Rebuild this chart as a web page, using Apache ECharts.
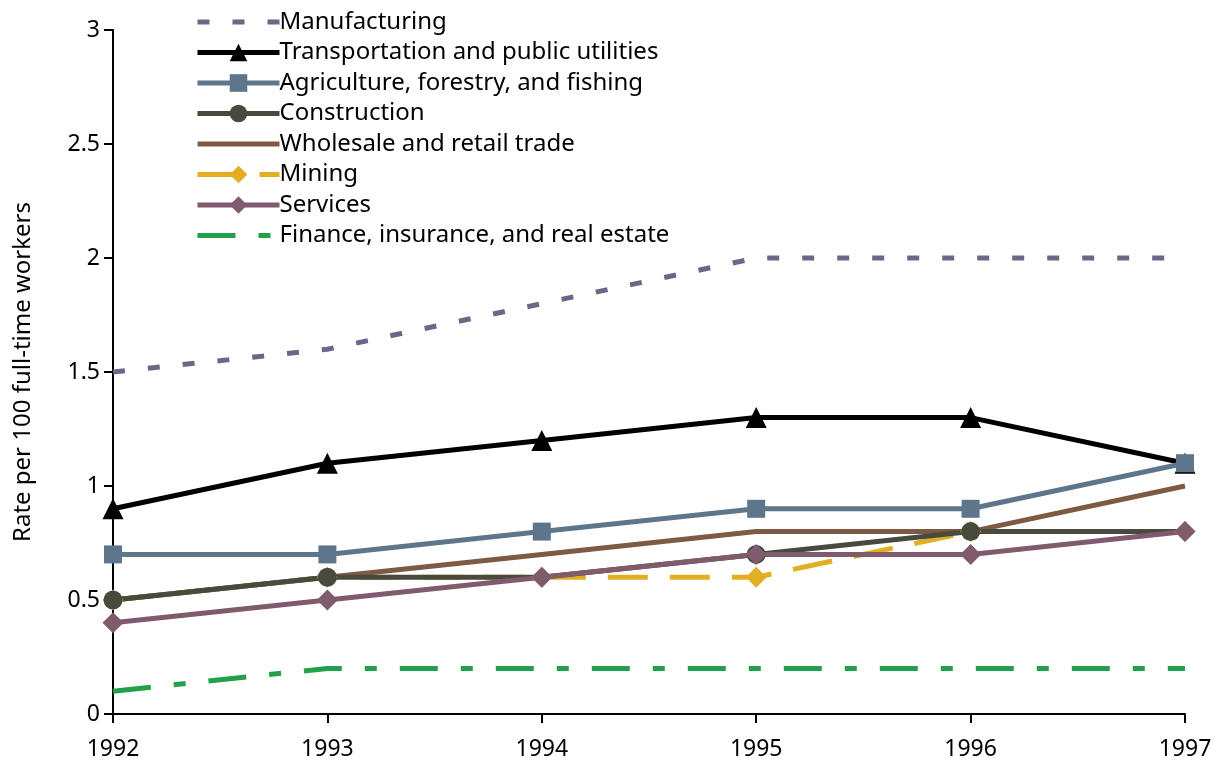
<!DOCTYPE html>
<html>
<head>
<meta charset="utf-8">
<script src="https://cdn.jsdelivr.net/npm/echarts@6/dist/echarts.min.js"></script>
<style>
  html, body { margin: 0; padding: 0; background: #fff; }
  #chart { width: 1221px; height: 768px; }
</style>
</head>
<body>
<div id="chart"></div>
<script>
const years = ['1992', '1993', '1994', '1995', '1996', '1997'];

const manufacturing = [1.5, 1.6, 1.8, 2.0, 2.0, 2.0];
const transportation = [0.9, 1.1, 1.2, 1.3, 1.3, 1.1];
const agriculture = [0.7, 0.7, 0.8, 0.9, 0.9, 1.1];
const construction = [0.5, 0.6, 0.6, 0.7, 0.8, 0.8];
const wholesale = [0.5, 0.6, 0.7, 0.8, 0.8, 1.0];
const mining = [0.5, 0.6, 0.6, 0.6, 0.8, 0.8];
const services = [0.4, 0.5, 0.6, 0.7, 0.7, 0.8];
const finance = [0.1, 0.2, 0.2, 0.2, 0.2, 0.2];

const legendOrder = [
  'Manufacturing',
  'Transportation and public utilities',
  'Agriculture, forestry, and fishing',
  'Construction',
  'Wholesale and retail trade',
  'Mining',
  'Services',
  'Finance, insurance, and real estate'
];

const font = 'Noto Sans';

function line(name, data, color, symbol, size, dash) {
  const noMarker = symbol === 'none';
  return {
    name: name,
    type: 'line',
    data: data,
    symbol: noMarker ? 'circle' : symbol,
    symbolSize: noMarker ? 0 : size,
    showSymbol: !noMarker,
    // hide the legend marker for plain lines
    itemStyle: { color: color, opacity: noMarker ? 0 : 1 },
    lineStyle: { color: color, width: 5, type: dash || 'solid', cap: 'butt', opacity: 1 },
    emphasis: { disabled: true },
    animation: false
  };
}

// the original drops the construction marker where it sits under other marks
const constructionData = construction.map((v, i) =>
  (i === 2 || i === 5) ? { value: v, symbol: 'none' } : v);

const chart = echarts.init(document.getElementById('chart'));
chart.setOption({
  backgroundColor: '#fff',
  textStyle: { fontFamily: font },
  grid: { left: 113, right: 36, top: 30, bottom: 54, outerBoundsMode: 'none' },
  legend: {
    data: legendOrder,
    orient: 'vertical',
    left: 190,
    top: 5,
    itemWidth: 82,
    itemHeight: 22,
    itemGap: 6.5,
    lineStyle: { width: 5 },
    textStyle: { fontFamily: font, fontSize: 24, color: '#000', padding: [0, 0, 0, -5] },
    inactiveColor: '#ccc'
  },
  xAxis: {
    type: 'category',
    data: years,
    boundaryGap: false,
    axisLine: { lineStyle: { color: '#000', width: 2 } },
    axisTick: { show: true, length: 9, alignWithLabel: true, lineStyle: { color: '#000', width: 2 } },
    axisLabel: { fontSize: 23, color: '#000', margin: 24, fontFamily: font },
    splitLine: { show: false }
  },
  yAxis: {
    type: 'value',
    min: 0,
    max: 3,
    interval: 0.5,
    name: 'Rate per 100 full-time workers',
    nameLocation: 'middle',
    nameGap: 78,
    nameTextStyle: { fontSize: 24, color: '#000', fontFamily: font },
    axisLine: { show: true, lineStyle: { color: '#000', width: 2 } },
    axisTick: { show: true, length: 9, lineStyle: { color: '#000', width: 2 } },
    axisLabel: { fontSize: 23, color: '#000', margin: 13, fontFamily: font },
    splitLine: { show: false }
  },
  series: [
    line('Manufacturing', manufacturing, '#6e6686', 'none', 0, [12, 23]),
    line('Transportation and public utilities', transportation, '#000000', 'triangle', 21),
    line('Mining', mining, '#e2ae22', 'diamond', 21, [40, 22]),
    line('Wholesale and retail trade', wholesale, '#7e5944', 'none', 0),
    line('Construction', constructionData, '#484a3e', 'circle', 19),
    line('Agriculture, forestry, and fishing', agriculture, '#5e768c', 'rect', 18),
    line('Services', services, '#7f5b6d', 'diamond', 21),
    line('Finance, insurance, and real estate', finance, '#23a04a', 'none', 0, [38, 23, 12, 23])
  ]
});
</script>
</body>
</html>
